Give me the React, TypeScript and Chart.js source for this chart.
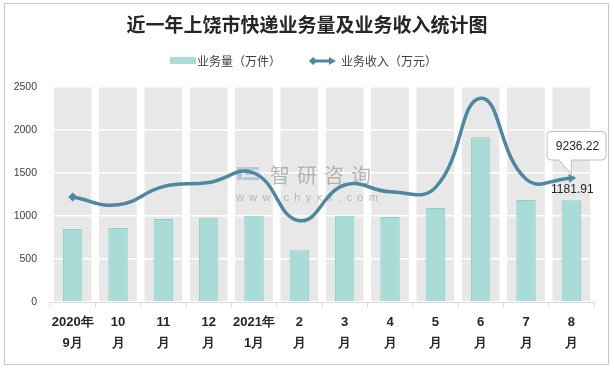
import React, { useEffect, useRef } from 'react';
import { Chart, registerables } from 'chart.js';

Chart.register(...registerables);

const categories: string[][] = [
  ['2020年', '9月'], ['10', '月'], ['11', '月'], ['12', '月'], ['2021年', '1月'], ['2', '月'],
  ['3', '月'], ['4', '月'], ['5', '月'], ['6', '月'], ['7', '月'], ['8', '月'],
];
const volume = [848, 860, 965, 980, 1003, 603, 1003, 988, 1093, 1917, 1187, 1181.91];
const revenue = [1220, 1130, 1342, 1390, 1500, 945, 1360, 1283, 1330, 2370, 1430, 1440];
const yMin = 0;
const yMax = 2500;
const yStep = 500;
const titleText = '近一年上饶市快递业务量及业务收入统计图';
const barLegend = '业务量（万件）';
const lineLegend = '业务收入（万元）';
const calloutLabel = '9236.22';
const lastBarLabel = '1181.91';
const watermarkCn = '智研咨询';
const watermarkEn = 'www.chyxx.com';

const BAR_FILL = '#a9dcd7';
const BAR_BORDER = '#90cfc8';
const LINE = '#4e87a0';
const CJK = '"Noto Sans CJK SC", "Noto Sans", sans-serif';
const LAT = '"Liberation Sans", Arial, sans-serif';

const decor = {
  id: 'decor',
  beforeDraw(chart: any) {
    const { ctx, chartArea, scales } = chart;
    ctx.save();
    ctx.fillStyle = '#ffffff';
    ctx.fillRect(0, 0, chart.width, chart.height);
    ctx.strokeStyle = '#c8c8c8';
    ctx.lineWidth = 1;
    ctx.strokeRect(4.5, 3.5, 604, 361);
    const xs = scales.x;
    const w = (chartArea.right - chartArea.left) / categories.length;
    ctx.fillStyle = '#e8e8e8';
    for (let i = 0; i < categories.length; i++) {
      const cx = xs.getPixelForValue(i);
      const bw = w * 0.83;
      ctx.fillRect(cx - bw / 2, chartArea.top, bw, chartArea.bottom - chartArea.top);
    }
    ctx.restore();
  },
  beforeDatasetsDraw(chart: any) {
    const { ctx } = chart;
    ctx.save();
    ctx.fillStyle = 'rgba(150,175,205,0.6)';
    ctx.fillRect(237, 167, 5, 13);
    ctx.fillRect(243, 167, 16, 3);
    ctx.fillRect(245, 172, 14, 3);
    ctx.fillRect(243, 177, 16, 3);
    ctx.fillStyle = 'rgba(160,160,160,0.75)';
    ctx.font = `20px ${CJK}`;
    ctx.textBaseline = 'middle';
    ctx.textAlign = 'left';
    (ctx as any).letterSpacing = '7px';
    ctx.fillText(watermarkCn, 270, 175);
    ctx.font = `11px ${LAT}`;
    (ctx as any).letterSpacing = '5.3px';
    ctx.fillStyle = 'rgba(160,160,160,0.7)';
    ctx.fillText(watermarkEn, 236, 198);
    (ctx as any).letterSpacing = '0px';
    ctx.restore();
  },
  afterDraw(chart: any) {
    const { ctx, scales } = chart;
    ctx.save();
    ctx.fillStyle = '#262626';
    ctx.font = `bold 19px ${CJK}`;
    ctx.textAlign = 'center';
    ctx.textBaseline = 'middle';
    ctx.fillText(titleText, 307, 25);
    ctx.fillStyle = BAR_FILL;
    ctx.fillRect(170, 57, 26, 7);
    ctx.font = `12px ${CJK}`;
    ctx.fillStyle = '#404040';
    ctx.textAlign = 'left';
    ctx.fillText(barLegend, 197, 61);
    ctx.strokeStyle = LINE;
    ctx.lineWidth = 3;
    ctx.beginPath();
    ctx.moveTo(312, 61);
    ctx.lineTo(331, 61);
    ctx.stroke();
    ctx.fillStyle = LINE;
    ctx.beginPath();
    ctx.moveTo(309, 61); ctx.lineTo(313, 57); ctx.lineTo(317, 61); ctx.lineTo(313, 65); ctx.closePath();
    ctx.fill();
    ctx.beginPath();
    ctx.moveTo(336, 61); ctx.lineTo(329, 57); ctx.lineTo(329, 65); ctx.closePath();
    ctx.fill();
    ctx.fillStyle = '#404040';
    ctx.fillText(lineLegend, 341, 61);
    const xs = scales.x;
    const ys = scales.y;
    const lx = xs.getPixelForValue(categories.length - 1);
    const ly = ys.getPixelForValue(revenue[revenue.length - 1]);
    ctx.font = `12px ${LAT}`;
    ctx.fillStyle = '#262626';
    ctx.textAlign = 'center';
    ctx.fillText(lastBarLabel, lx + 1, ly + 12);
    const bx = 547, by = 131.5, bw = 59, bh = 28.5;
    ctx.beginPath();
    ctx.moveTo(bx + 4, by);
    ctx.lineTo(bx + bw - 4, by);
    ctx.quadraticCurveTo(bx + bw, by, bx + bw, by + 4);
    ctx.lineTo(bx + bw, by + bh - 4);
    ctx.quadraticCurveTo(bx + bw, by + bh, bx + bw - 4, by + bh);
    ctx.lineTo(lx, by + bh);
    ctx.lineTo(lx, ly - 4);
    ctx.lineTo(bx + 12, by + bh);
    ctx.lineTo(bx + 4, by + bh);
    ctx.quadraticCurveTo(bx, by + bh, bx, by + bh - 4);
    ctx.lineTo(bx, by + 4);
    ctx.quadraticCurveTo(bx, by, bx + 4, by);
    ctx.closePath();
    ctx.fillStyle = '#ffffff';
    ctx.fill();
    ctx.strokeStyle = '#bfbfbf';
    ctx.lineWidth = 1;
    ctx.stroke();
    ctx.fillStyle = '#262626';
    ctx.fillText(calloutLabel, bx + bw / 2 + 1, by + bh / 2 + 0.5);
    ctx.restore();
  },
};

export default function App() {
  const ref = useRef<HTMLCanvasElement | null>(null);
  useEffect(() => {
    if (!ref.current) return;
    const n = revenue.length;
    const chart = new Chart(ref.current, {
      type: 'bar',
      data: {
        labels: categories,
        datasets: [
          {
            type: 'line',
            label: lineLegend,
            data: revenue,
            borderColor: LINE,
            backgroundColor: LINE,
            borderWidth: 3.5,
            tension: 0.45,
            order: 0,
            pointStyle: revenue.map((_, i) => (i === 0 ? 'rectRot' : i === n - 1 ? 'triangle' : 'circle')) as any,
            pointRadius: revenue.map((_, i) => (i === 0 ? 4.5 : i === n - 1 ? 5 : 0)),
            pointRotation: revenue.map((_, i) => (i === n - 1 ? 85 : 0)),
            pointBorderWidth: 0,
            pointBackgroundColor: LINE,
          } as any,
          {
            type: 'bar',
            label: barLegend,
            data: volume,
            backgroundColor: BAR_FILL,
            borderColor: BAR_BORDER,
            borderWidth: 1,
            categoryPercentage: 1,
            barPercentage: 0.43,
            order: 1,
          },
        ],
      },
      options: {
        responsive: false,
        animation: false,
        devicePixelRatio: 1,
        layout: { padding: { top: 87, right: 20, bottom: 0, left: 0 } },
        plugins: { legend: { display: false }, title: { display: false }, tooltip: { enabled: false } },
        scales: {
          x: {
            offset: true,
            grid: { offset: true, drawOnChartArea: false, tickLength: 5, color: '#d9d9d9' },
            border: { color: '#d9d9d9' },
            ticks: {
              autoSkip: false,
              maxRotation: 0,
              color: '#262626',
              padding: 5,
              font: { family: LAT, size: 13, weight: 'bold', lineHeight: 1.6 },
            },
            afterFit: (s: any) => { s.height = 68; },
          },
          y: {
            min: yMin,
            max: yMax,
            ticks: {
              stepSize: yStep,
              color: '#404040',
              padding: 13,
              font: { family: LAT, size: 10.5 },
              callback: (v: any) => String(v),
            },
            grid: { color: '#ffffff', lineWidth: 1.5, drawTicks: false },
            border: { display: false },
            afterFit: (s: any) => { s.width = 50; },
          },
        },
      },
      plugins: [decor],
    });
    return () => chart.destroy();
  }, []);
  return (
    <div style={{ position: 'fixed', left: 0, top: 0, width: 614, height: 370, background: '#fff' }}>
      <canvas ref={ref} width={614} height={370} style={{ width: 614, height: 370, display: 'block' }} />
    </div>
  );
}
